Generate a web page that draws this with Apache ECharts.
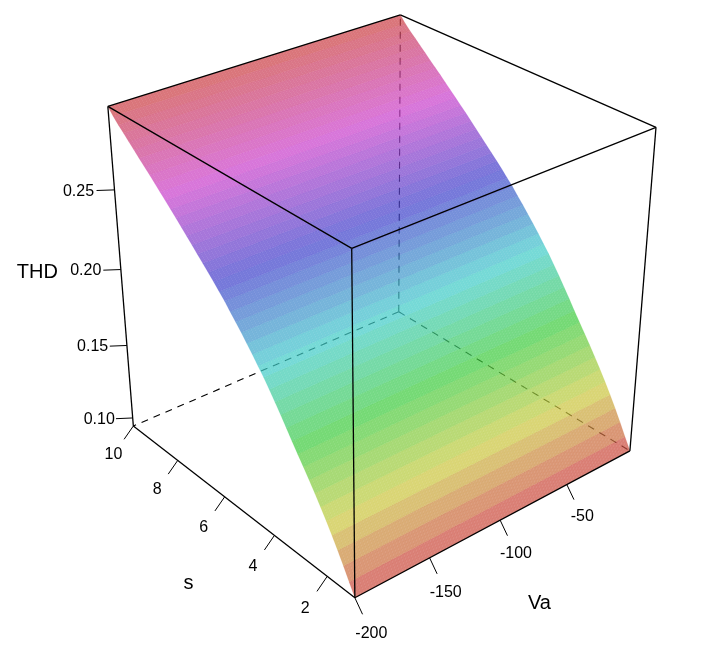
<!doctype html><html><head><meta charset="utf-8"><style>html,body{margin:0;background:#fff}#c{width:702px;height:653px}</style>
<script src="https://cdn.jsdelivr.net/npm/echarts@6/dist/echarts.min.js"></script></head><body><div id="c"></div>
<script>
const sValues=[1,1.2,1.4,1.6,1.8,2,2.2,2.4,2.6,2.8,3,3.2,3.4,3.6,3.8,4,4.2,4.4,4.6,4.8,5,5.2,5.4,5.6,5.8,6,6.2,6.4,6.6,6.8,7,7.2,7.4,7.6,7.8,8,8.2,8.4,8.6,8.8,9,9.2,9.4,9.6,9.8,10];
const thdValues=[.0943,.1018,.1095,.1168,.1238,.1304,.1367,.1428,.1487,.1544,.1599,.1656,.1715,.1772,.1828,.1882,.1934,.1981,.2029,.2074,.2119,.2162,.2203,.2246,.2283,.2321,.2357,.2392,.2427,.2462,.2497,.2532,.2567,.26,.2633,.2666,.2699,.2732,.2763,.2795,.2828,.2859,.2892,.2923,.2958,.2999];
const vaValues=[-200,-198,-196,-194,-192,-190,-188,-186,-184,-182,-180,-178,-176,-174,-172,-170,-168,-166,-164,-162,-160,-158,-156,-154,-152,-150,-148,-146,-144,-142,-140,-138,-136,-134,-132,-130,-128,-126,-124,-122,-120,-118,-116,-114,-112,-110,-108,-106,-104,-102,-100,-98,-96,-94,-92,-90,-88,-86,-84,-82,-80,-78,-76,-74,-72,-70,-68,-66,-64,-62,-60,-58,-56,-54,-52,-50,-48,-46,-44,-42,-40,-38,-36,-34,-32,-30,-28,-26,-24,-22,-20,-18,-16,-14,-12,-10,-8,-6,-4,-2,0];
const vaTicks=[-200,-150,-100,-50];
const sTicks=[2,4,6,8,10];
const thdTicks=[0.10,0.15,0.20,0.25];
const vaRange=[-200,0], sRange=[1,10], thdRange=[.0943,.2999];
const camera=[[350.46336,-202.77616,-40.54308,354.86232],[-92.9639,-111.88735,-375.8226,597.78988],[0.11972,0.14057,-0.10633,1]];

const U=a=>(a-vaRange[0])/(vaRange[1]-vaRange[0]), V=a=>(a-sRange[0])/(sRange[1]-sRange[0]), W=a=>(a-thdRange[0])/(thdRange[1]-thdRange[0]);
function proj(u,v,w){const X=[u,v,w,1],d=(r)=>r[0]*X[0]+r[1]*X[1]+r[2]*X[2]+r[3];const h=d(camera[2]);return [d(camera[0])/h,d(camera[1])/h];}
function rainbow(h,a){const i=Math.floor(h*6)%6,f=h*6-Math.floor(h*6),m=x=>Math.round(66+138*x),c=[[1,f,0],[1-f,1,0],[0,1,f],[0,1-f,1],[f,0,1],[1,0,1-f]][i];return `rgba(${m(c[0])},${m(c[1])},${m(c[2])},${a})`;}

const edgesBack=[[1,1,0,0,1,0],[1,1,0,1,0,0],[1,1,0,1,1,1]];
const edgesFront=[[0,0,0,1,0,0],[0,0,0,0,1,0],[0,0,0,0,0,1],[1,0,0,1,0,1],[0,1,0,0,1,1],[0,0,1,1,0,1],[0,0,1,0,1,1],[1,0,1,1,1,1],[0,1,1,1,1,1]];
function lineItem(dash,lw){return (p,api)=>{const a=api.coord(proj(api.value(0),api.value(1),api.value(2))),b=api.coord(proj(api.value(3),api.value(4),api.value(5)));
 return {type:'line',shape:{x1:a[0],y1:a[1],x2:b[0],y2:b[1]},style:{stroke:'#000',lineWidth:lw,lineDash:dash||null,fill:null}};};}
const facets=[];for(let i=0;i<sValues.length-1;i++)for(let j=0;j<vaValues.length-1;j++)facets.push([j,i]);
function facetItem(p,api){const j=api.value(0),i=api.value(1);
 const pt=(jj,ii)=>api.coord(proj(U(vaValues[jj]),V(sValues[ii]),W(thdValues[ii])));
 const h=Math.min(.999,W((thdValues[i]+thdValues[i+1])/2));
 return {type:'polygon',shape:{points:[pt(j,i),pt(j+1,i),pt(j+1,i+1),pt(j,i+1)]},style:{fill:rainbow(h,.72),stroke:rainbow(h,.35),lineWidth:.3}};}
const tk=[];const lb=[];
vaTicks.forEach(a=>{tk.push([U(a),0,0,0,-.03,-.034]);lb.push([U(a),0,0,0,-.03,-.034,2.15,String(a),16]);});
sTicks.forEach(a=>{tk.push([0,V(a),0,-.034,0,-.031]);lb.push([0,V(a),0,-.034,0,-.031,2.15,String(a),16]);});
thdTicks.forEach(a=>{tk.push([0,1,W(a),-.0386,.0276,0]);lb.push([0,1,W(a),-.0386,.0276,0,2,a.toFixed(2),16]);});
lb.push([.5,0,0,0,-.03,-.034,5.35,'Va',20]);
lb.push([0,.485,0,-.034,0,-.031,5.25,'s',20]);
lb.push([0,1,.515,-.0386,.0276,0,4.75,'THD',20]);
function tickItem(p,api){const x=api.value(0),y=api.value(1),z=api.value(2);
 const a=api.coord(proj(x,y,z)),b=api.coord(proj(x+api.value(3),y+api.value(4),z+api.value(5)));
 return {type:'line',shape:{x1:a[0],y1:a[1],x2:b[0],y2:b[1]},style:{stroke:'#000',lineWidth:1,fill:null}};}
function labelItem(p,api){const r=lb[p.dataIndex],m=r[6];const q=api.coord(proj(r[0]+r[3]*m,r[1]+r[4]*m,r[2]+r[5]*m));
 return {type:'text',x:q[0],y:q[1],style:{text:r[7],fill:'#000',align:'center',verticalAlign:'middle',font:r[8]+'px "Liberation Sans"'}};}
const base={type:'custom',coordinateSystem:'cartesian2d',silent:true,animation:false,clip:false,progressive:0};
const chart=echarts.init(document.getElementById('c'),null,{renderer:'canvas'});
chart.setOption({animation:false,backgroundColor:'#fff',
 grid:{left:0,right:0,top:0,bottom:0},
 xAxis:{type:'value',min:0,max:702,show:false},
 yAxis:{type:'value',min:0,max:653,inverse:true,show:false},
 series:[
  Object.assign({},base,{z:1,name:'back',data:edgesBack,encode:{x:-1,y:-1},renderItem:lineItem([7,6],1.1)}),
  Object.assign({},base,{z:2,name:'THD',data:facets,encode:{x:-1,y:-1},renderItem:facetItem}),
  Object.assign({},base,{z:3,name:'box',data:edgesFront,encode:{x:-1,y:-1},renderItem:lineItem(null,1.3)}),
  Object.assign({},base,{z:3,name:'ticks',data:tk,encode:{x:-1,y:-1},renderItem:tickItem}),
  Object.assign({},base,{z:4,name:'labels',data:lb.map(r=>r.slice(0,6)),encode:{x:-1,y:-1},renderItem:labelItem})
 ]});
</script></body></html>
